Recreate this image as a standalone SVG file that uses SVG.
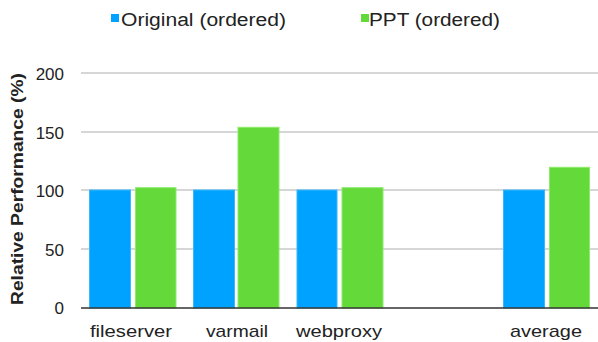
<svg xmlns="http://www.w3.org/2000/svg" width="598" height="342" viewBox="0 0 598 342">
<style>
text{font-family:"Liberation Sans",Arial,sans-serif;fill:#222}
.grid{stroke:#c8c8c8;stroke-width:1.5}
.axis{stroke:#333;stroke-width:1.5}
.tick{font-size:17px;text-anchor:end}
.cat{font-size:17px;text-anchor:middle}
.leg{font-size:18px}
.b{fill:#00a2ff;stroke:#3ab8ff;stroke-width:1}
.g{fill:#64d93a;stroke:#8cec6a;stroke-width:1}
</style>
<rect width="598" height="342" fill="#fff"/>
<g id="legend">
<rect x="111" y="14" width="8" height="8" fill="#00a2ff"/>
<text class="leg" x="121" y="26" textLength="165" lengthAdjust="spacingAndGlyphs">Original (ordered)</text>
<rect x="361" y="14" width="8" height="8" fill="#64d93a"/>
<text class="leg" x="369" y="26" textLength="131" lengthAdjust="spacingAndGlyphs">PPT (ordered)</text>
</g>
<g id="gridlines">
<line class="grid" x1="81" y1="73" x2="598" y2="73"/>
<line class="grid" x1="81" y1="132" x2="598" y2="132"/>
<line class="grid" x1="81" y1="190" x2="598" y2="190"/>
<line class="grid" x1="81" y1="249" x2="598" y2="249"/>
</g>
<g id="yaxis">
<text class="tick" x="64" y="79.5">200</text>
<text class="tick" x="64" y="138.5">150</text>
<text class="tick" x="64" y="197">100</text>
<text class="tick" x="64" y="255.5">50</text>
<text class="tick" x="64" y="314">0</text>
<text x="0" y="0" font-size="16" font-weight="bold" text-anchor="middle" transform="translate(23,189) rotate(-90)" textLength="232" lengthAdjust="spacingAndGlyphs">Relative Performance (%)</text>
</g>
<g id="bars">
<rect class="b" x="89.5" y="190" width="41" height="118"/>
<rect class="g" x="135.5" y="187.7" width="40.5" height="120.3"/>
<rect class="b" x="193.5" y="190" width="41" height="118"/>
<rect class="g" x="238" y="127.3" width="41" height="180.7"/>
<rect class="b" x="297" y="190" width="40" height="118"/>
<rect class="g" x="342" y="187.7" width="41" height="120.3"/>
<rect class="b" x="503.5" y="190" width="41" height="118"/>
<rect class="g" x="549.5" y="167.3" width="40" height="140.7"/>
</g>
<g id="xaxis">
<line class="axis" x1="81" y1="308" x2="598" y2="308"/>
<text class="cat" x="131" y="337" textLength="82" lengthAdjust="spacingAndGlyphs">fileserver</text>
<text class="cat" x="237" y="337" textLength="62" lengthAdjust="spacingAndGlyphs">varmail</text>
<text class="cat" x="339" y="337" textLength="86" lengthAdjust="spacingAndGlyphs">webproxy</text>
<text class="cat" x="546" y="337" textLength="72" lengthAdjust="spacingAndGlyphs">average</text>
</g>
</svg>
